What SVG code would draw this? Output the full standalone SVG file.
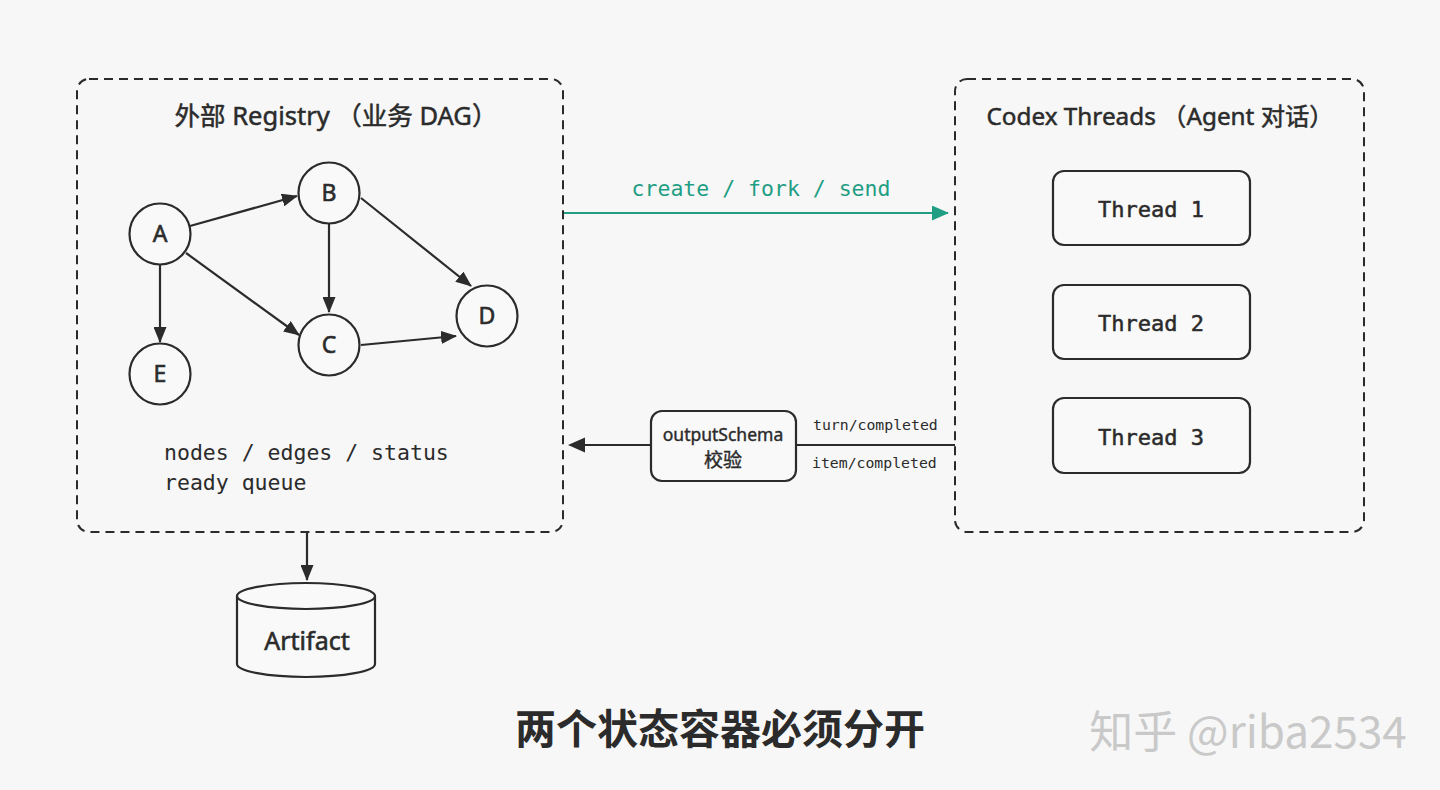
<svg xmlns="http://www.w3.org/2000/svg" width="1440" height="790" viewBox="0 0 1440 790">
<style>
.bg{fill:#f7f7f7}
.dash{fill:none;stroke:#2b2b2b;stroke-width:2;stroke-dasharray:9 6}
.ln{fill:none;stroke:#2b2b2b;stroke-width:2.2}
.node{fill:#f9f9f9;stroke:#2b2b2b;stroke-width:2.2}
.title{font-family:"Noto Sans","Noto Sans CJK SC",sans-serif;font-size:25.5px;fill:#2b2b2b;text-anchor:middle;stroke:#2b2b2b;stroke-width:0.5}
.nl{font-family:"Noto Sans","Noto Sans CJK SC",sans-serif;font-size:23px;fill:#2b2b2b;text-anchor:middle;stroke:#2b2b2b;stroke-width:0.6}
.mono{font-family:"DejaVu Sans Mono",monospace;fill:#2b2b2b}
.thr{font-family:"DejaVu Sans Mono",monospace;fill:#2b2b2b;font-size:22px;text-anchor:middle;stroke:#2b2b2b;stroke-width:0.5}
</style>
<defs>
<marker id="a2" viewBox="0 0 16 13" refX="15" refY="6.5" markerWidth="16" markerHeight="13" orient="auto" markerUnits="userSpaceOnUse">
<path d="M0,0 L16,6.5 L0,13 z" fill="#2b2b2b"/>
</marker>
<marker id="at" viewBox="0 0 17 15" refX="16" refY="7.5" markerWidth="17" markerHeight="15" orient="auto" markerUnits="userSpaceOnUse">
<path d="M0,0 L17,7.5 L0,15 z" fill="#1f9e84"/>
</marker>
</defs>
<rect class="bg" x="0" y="0" width="1440" height="790"/>

<g id="registry">
<rect class="dash" x="77" y="79" width="486" height="453" rx="12"/>
<text class="title" x="336" y="125">外部 Registry （业务 DAG）</text>
<text class="mono" x="164" y="460" font-size="21.5">nodes / edges / status</text>
<text class="mono" x="164" y="490" font-size="21.5">ready queue</text>
</g>

<g id="threads">
<rect class="dash" x="955" y="79" width="409" height="453" rx="12"/>
<text class="title" x="1160" y="125" style="font-size:24.3px">Codex Threads （Agent 对话）</text>
</g>

<g id="connectors">
<line class="ln" x1="190" y1="226" x2="297" y2="196" marker-end="url(#a2)"/>
<line class="ln" x1="186" y1="253" x2="299" y2="335" marker-end="url(#a2)"/>
<line class="ln" x1="160" y1="264" x2="160" y2="342" marker-end="url(#a2)"/>
<line class="ln" x1="329" y1="224" x2="329" y2="312" marker-end="url(#a2)"/>
<line class="ln" x1="361" y1="198" x2="471" y2="286" marker-end="url(#a2)"/>
<line class="ln" x1="361" y1="345" x2="456" y2="336" marker-end="url(#a2)"/>
<line x1="564" y1="213" x2="948" y2="213" stroke="#1f9e84" stroke-width="2.2" marker-end="url(#at)"/>
<text class="mono" x="761" y="196" font-size="21.5" style="fill:#1f9e84" text-anchor="middle">create / fork / send</text>
<line class="ln" x1="796" y1="445" x2="955" y2="445"/>
<line class="ln" x1="651" y1="445" x2="580" y2="445"/>
<path d="M568,445 L585,437.5 L585,452.5 z" fill="#2b2b2b"/>
<text class="mono" x="813" y="430" font-size="14.8">turn/completed</text>
<text class="mono" x="812" y="468" font-size="14.8">item/completed</text>
<line class="ln" x1="307" y1="532" x2="307" y2="580" marker-end="url(#a2)"/>
</g>

<g id="nodeA"><circle class="node" cx="160" cy="234" r="30.5"/><text class="nl" x="160" y="242">A</text></g>
<g id="nodeB"><circle class="node" cx="329" cy="193" r="30.5"/><text class="nl" x="329" y="201">B</text></g>
<g id="nodeC"><circle class="node" cx="329" cy="345" r="30.5"/><text class="nl" x="329" y="353">C</text></g>
<g id="nodeD"><circle class="node" cx="487" cy="316" r="30.5"/><text class="nl" x="487" y="324">D</text></g>
<g id="nodeE"><circle class="node" cx="160" cy="374" r="30.5"/><text class="nl" x="160" y="382">E</text></g>

<g id="thread1"><rect class="node" x="1053" y="171" width="197" height="74" rx="11"/><text class="thr" x="1151" y="217">Thread 1</text></g>
<g id="thread2"><rect class="node" x="1053" y="285" width="197" height="74" rx="11"/><text class="thr" x="1151" y="331">Thread 2</text></g>
<g id="thread3"><rect class="node" x="1053" y="398" width="197" height="75" rx="11"/><text class="thr" x="1151" y="445">Thread 3</text></g>

<g id="schema">
<rect class="node" x="651" y="411" width="145" height="70" rx="11"/>
<text class="nl" x="723" y="441" style="font-size:17.5px;stroke-width:0.4">outputSchema</text>
<text class="nl" x="723" y="467" style="font-size:19px;stroke-width:0.4">校验</text>
</g>

<g id="artifact">
<path class="node" d="M237,596 L237,664 A69,13 0 0 0 375,664 L375,596"/>
<ellipse class="node" cx="306" cy="596" rx="69" ry="13"/>
<text class="nl" x="307" y="650" style="font-size:25px">Artifact</text>
</g>

<text x="720" y="744" font-family="'Noto Sans CJK SC',sans-serif" font-size="41" font-weight="bold" fill="#2b2b2b" text-anchor="middle">两个状态容器必须分开</text>
<text x="1248" y="748" font-family="'Noto Sans CJK SC',sans-serif" font-size="44" fill="#c9c9c9" text-anchor="middle">知乎 @riba2534</text>
</svg>
